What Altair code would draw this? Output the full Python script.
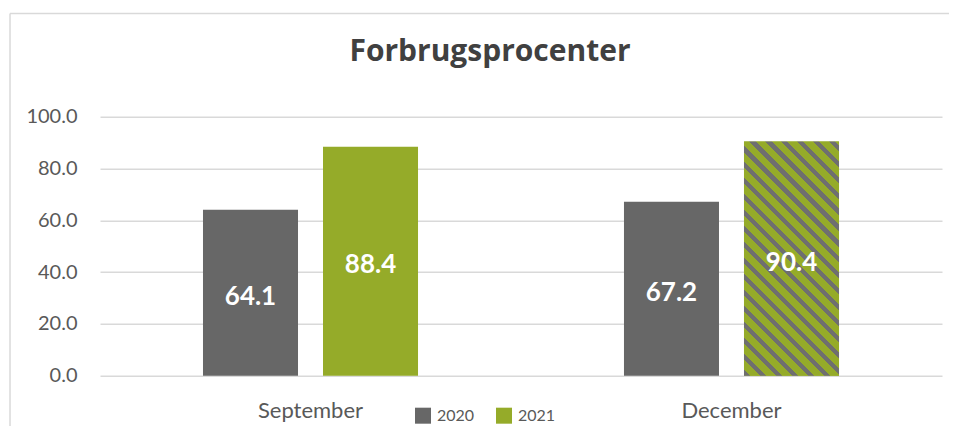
import altair as alt
import pandas as pd

# ---- data ----
months = ["September", "December"]
years = ["2020", "2021"]
values_2020 = [64.1, 67.2]
values_2021 = [88.4, 90.4]
y_ticks = [0, 20, 40, 60, 80, 100]
chart_title = "Forbrugsprocenter"

rows = []
for i, m in enumerate(months):
    rows.append({"month": m, "year": years[0], "value": values_2020[i]})
    rows.append({"month": m, "year": years[1], "value": values_2021[i]})
df = pd.DataFrame(rows)

# ---- styles ----
GRAY = "#676767"
GREEN = "#95ab29"
STRIPE = "#6f6f6f"
GRID = "#d9d9d9"
TXT = "#595959"
FONT = "Lato"


def hatch_stops(n_periods, gray_frac):
    stops = []
    k = 0
    while k < n_periods:
        a = k / n_periods
        b = min((k + gray_frac) / n_periods, 1.0)
        c = min((k + 1) / n_periods, 1.0)
        stops += [(a, STRIPE), (b, STRIPE), (b, GREEN), (c, GREEN)]
        k += 1
    return [alt.GradientStop(offset=round(o, 5), color=col) for o, col in stops]


# diagonal "\" stripes on a bar of aspect h/w
r = 2.464
dx = (1 + r) / (1 + r * r)
hatch = alt.LinearGradient(
    gradient="linear",
    x1=0, y1=1, x2=round(dx, 4), y2=round(1 - dx * r, 4),
    stops=hatch_stops(20.6, 0.38),
)

x_enc = alt.X(
    "month:N", sort=months, title=None,
    scale=alt.Scale(paddingInner=0, paddingOuter=0),
    axis=alt.Axis(labelAngle=0, labelFont=FONT, labelFontSize=22, labelColor=TXT,
                  domain=False, ticks=False, tickSize=0, labelPadding=25, grid=False),
)
xoff = alt.XOffset("year:N", sort=years,
                   scale=alt.Scale(paddingInner=0.2083, paddingOuter=0.858))
y_axis = alt.Axis(values=y_ticks, format=".1f", labelFont=FONT, labelFontSize=20,
                  labelColor=TXT, domain=False, ticks=False, tickSize=0,
                  labelPadding=23, grid=True, gridColor=GRID, gridWidth=1.5)
y_enc = alt.Y("value:Q", scale=alt.Scale(domain=[0, 100], nice=False),
              title=None, axis=y_axis)

base = alt.Chart(df)

bars = base.mark_bar().encode(
    x=x_enc, xOffset=xoff, y=y_enc,
    color=alt.Color(
        "year:N", sort=years,
        scale=alt.Scale(domain=years, range=[GRAY, GREEN]),
        legend=alt.Legend(title=None, orient="none", legendX=315, legendY=291,
                          direction="horizontal", symbolType="square",
                          symbolSize=256, symbolStrokeWidth=0,
                          labelFont=FONT, labelFontSize=16, labelColor=TXT,
                          labelOffset=6, columnPadding=21, padding=0),
    ),
)

hatched = base.transform_filter(
    (alt.datum.month == months[1]) & (alt.datum.year == years[1])
).mark_bar(color=hatch, strokeWidth=0).encode(x=x_enc, xOffset=xoff, y=y_enc)

labels = base.transform_calculate(mid="datum.value / 2").mark_text(
    font=FONT, fontSize=26, fontWeight="bold", color="white",
    baseline="middle", dy=4,
).encode(
    x=x_enc, xOffset=xoff,
    y=alt.Y("mid:Q", scale=alt.Scale(domain=[0, 100], nice=False), title=None, axis=y_axis),
    text=alt.Text("value:Q", format=".1f"),
)

one = pd.DataFrame({"k": [0]})
frame_top = alt.Chart(one).mark_rule(color=GRID, strokeWidth=1.5).encode(
    x=alt.value(-90), x2=alt.value(860), y=alt.value(-103.2))
frame_left = alt.Chart(one).mark_rule(color=GRID, strokeWidth=1.5).encode(
    x=alt.value(-90), y=alt.value(-103.2), y2=alt.value(340))

chart = alt.layer(frame_top, frame_left, bars, hatched, labels).properties(
    width=842, height=259,
    title=alt.TitleParams(chart_title, font="Open Sans", fontSize=30, fontWeight="bold",
                          color="#404040", anchor="middle", frame="group",
                          dx=-31, dy=58),
    autosize=alt.AutoSizeParams(type="none"),
    padding={"left": 92, "top": 108.7, "right": 7, "bottom": 50},
    background="white",
).configure_view(stroke=None)

chart.save("out.html", embed_options={"renderer": "svg", "actions": False})
